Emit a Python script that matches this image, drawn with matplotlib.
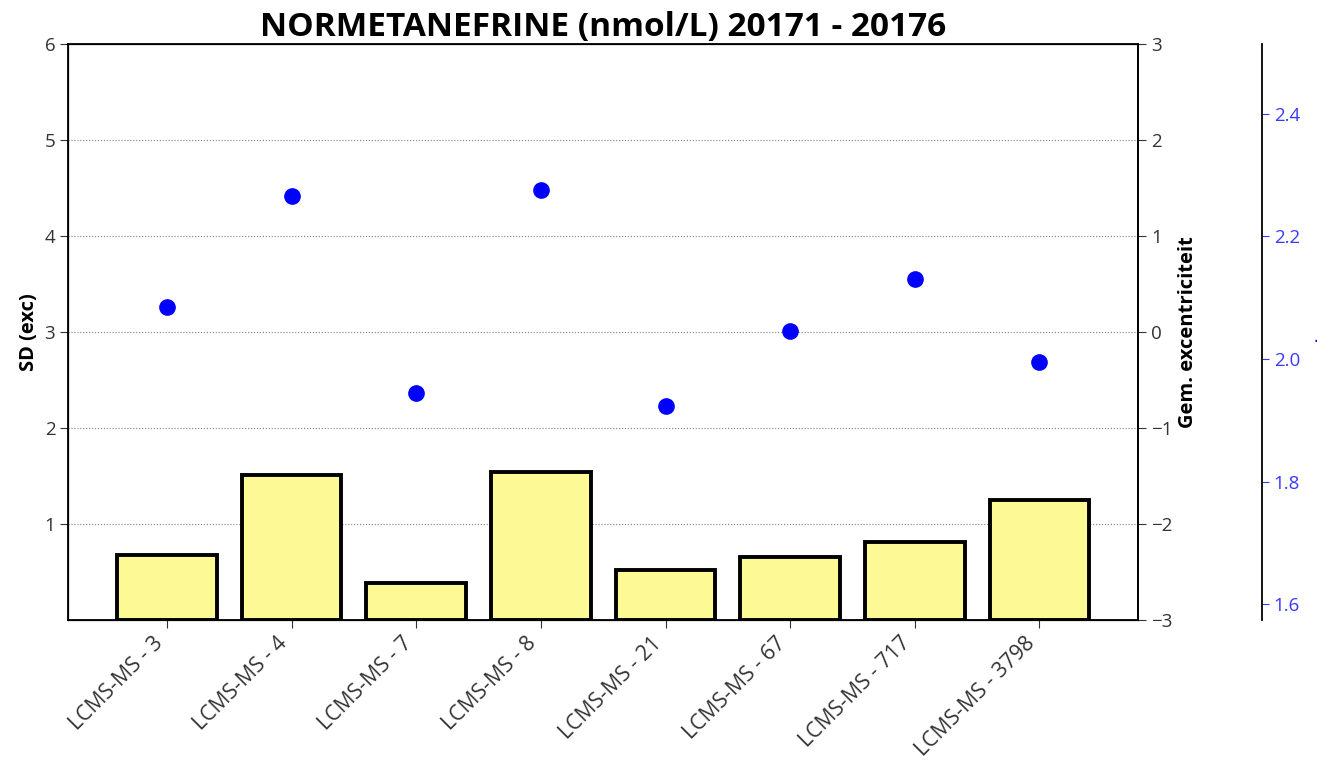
import matplotlib.pyplot as plt

plt.rcParams['font.family'] = ['Open Sans', 'DejaVu Sans']

labels = ['LCMS-MS - 3', 'LCMS-MS - 4', 'LCMS-MS - 7', 'LCMS-MS - 8',
          'LCMS-MS - 21', 'LCMS-MS - 67', 'LCMS-MS - 717', 'LCMS-MS - 3798']
sd_exc = [0.68, 1.51, 0.385, 1.54, 0.52, 0.66, 0.82, 1.25]
gem_exc = [0.26, 1.42, -0.635, 1.48, -0.77, 0.01, 0.55, -0.31]

fig, ax = plt.subplots(figsize=(13.17, 7.63), dpi=100)
fig.subplots_adjust(left=0.052, right=0.864, top=0.942, bottom=0.187)

x = range(len(labels))
ax.bar(x, sd_exc, width=0.8, color='#fdf995', edgecolor='black', linewidth=2.8, zorder=3)
ax.set_ylim(0, 6)
ax.set_yticks([1, 2, 3, 4, 5, 6])
ax.set_xticks(list(x))
ax.set_xticklabels(labels, rotation=45, ha='right', fontsize=15.3)
ax.set_ylabel('SD (exc)', fontweight='bold', fontsize=14.5)
ax.yaxis.grid(True, linestyle=':', color='gray', linewidth=0.8, zorder=0)
ax.tick_params(axis='y', labelsize=13.5, length=6, colors='#333333')
ax.tick_params(axis='x', length=6, pad=3, colors='#333333')
for s in ax.spines.values():
    s.set_linewidth(1.3)

ax2 = ax.twinx()
ax2.plot(list(x), gem_exc, 'o', color='blue', markersize=11, zorder=4)
ax2.set_ylim(-3, 3)
ax2.set_ylabel('Gem. excentriciteit', fontweight='bold', fontsize=14.5)
ax2.tick_params(labelsize=13.5, length=6, colors='#333333')
ax2.spines['right'].set_linewidth(1.3)

ax3 = ax.twinx()
ax3.spines['right'].set_position(('axes', 1.116))
ax3.spines['right'].set_linewidth(1.3)
ax3.set_ylim(1.574, 2.513)
ax3.set_yticks([1.6, 1.8, 2.0, 2.2, 2.4])
ax3.tick_params(labelsize=13.5, length=5, colors='#3a3aff')
ax3.set_ylabel('-', color='blue', fontweight='bold', fontsize=12, rotation=0, labelpad=12)

ax.set_title('NORMETANEFRINE (nmol/L) 20171 - 20176', fontsize=24, fontweight='bold')

fig.savefig('out.png')
